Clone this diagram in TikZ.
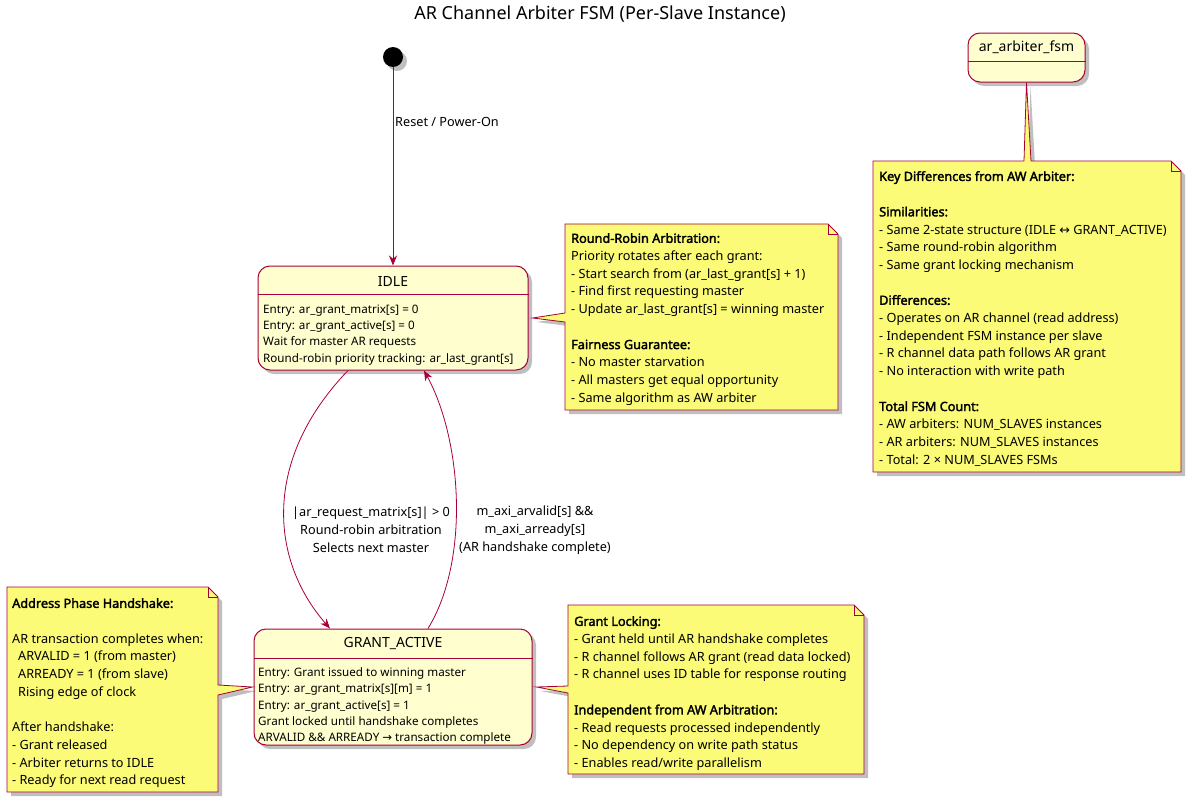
\documentclass[tikz,border=0pt]{standalone}
\usepackage{fontspec}
\setmainfont{Noto Sans}
\newfontfamily\boldnoto{Noto Sans}[FakeBold=2.2]
\newfontfamily\symfont{DejaVu Sans}
\newcommand{\hd}[1]{{\boldnoto #1}}
\usetikzlibrary{arrows.meta,shadows,calc}
\definecolor{stfill}{HTML}{FEFECE}
\definecolor{notefill}{HTML}{FBFB77}
\definecolor{bord}{HTML}{A80036}
\tikzset{
  shadowed/.style={drop shadow={shadow xshift=4pt,shadow yshift=-4pt,fill=black,opacity=0.25}},
  statebox/.style={draw=bord,fill=stfill,line width=1pt,rounded corners=12pt,inner sep=0pt,shadowed},
  sttitle/.style={font=\fontsize{14}{16}\selectfont,inner sep=0pt},
  stbody/.style={font=\fontsize{11.65}{16.3}\selectfont,align=left,anchor=north west,inner sep=0pt},
  notetext/.style={font=\fontsize{12.7}{17.7}\selectfont,align=left,anchor=north west,inner sep=0pt},
  noteshape/.style={draw=bord,fill=notefill,line width=0.8pt,line join=miter,shadowed},
  fold/.style={draw=bord,line width=0.8pt},
  sep/.style={draw=bord,line width=0.8pt},
  trans/.style={draw=bord,line width=0.8pt,-{Stealth[length=10pt,width=8pt]}},
  elabel/.style={font=\fontsize{12.7}{18}\selectfont,align=center,inner sep=0pt},
}
\begin{document}
\begin{tikzpicture}[x=1pt,y=-1pt]
\useasboundingbox (0,0) rectangle (1192,803);
\node[font=\fontsize{18}{20}\selectfont,inner sep=0pt] (title) at (600,14) {AR Channel Arbiter FSM (Per-Slave Instance)};

% states
\node[circle,fill=black,minimum size=20pt,inner sep=0pt,shadowed] (init) at (393,57) {};
\node[statebox,minimum width=270pt,minimum height=104pt] (idle) at (393,318) {};
\draw[sep] (idle.west |- 0,294) -- (idle.east |- 0,294);
\node[sttitle] (idleT) at (393,281) {IDLE};
\node[stbody] (idleB) at (263,304.5) {Entry: ar\_grant\_matrix[s] = 0\\
Entry: ar\_grant\_active[s] = 0\\
Wait for master AR requests\\
Round-robin priority tracking: ar\_last\_grant[s]};

\node[statebox,minimum width=278pt,minimum height=116pt] (grant) at (393,687) {};
\draw[sep] (grant.west |- 0,658) -- (grant.east |- 0,658);
\node[sttitle] (grantT) at (393,644) {GRANT\_ACTIVE};
\node[stbody] (grantB) at (258,667.5) {Entry: Grant issued to winning master\\
Entry: ar\_grant\_matrix[s][m] = 1\\
Entry: ar\_grant\_active[s] = 1\\
Grant locked until handshake completes\\
ARVALID \&\& ARREADY {\symfont →} transaction complete};

\node[statebox,minimum width=117pt,minimum height=49pt] (fsm) at (1026.5,57.5) {};
\draw[sep] (fsm.west |- 0,61.5) -- (fsm.east |- 0,61.5);
\node[sttitle] (fsmT) at (1026.5,47) {ar\_arbiter\_fsm};

% transitions
\draw[trans] (init) -- (idle);
\node[anchor=west,font=\fontsize{12.7}{14}\selectfont,inner sep=0pt] (rlabel) at (395,122) {Reset / Power-On};
\draw[trans] ($(idle.south)+(-45,0)$) .. controls (262,460) and (270,560) .. ($(grant.north)+(-63,0)$);
\draw[trans] ($(grant.north)+(35,0)$) .. controls (470,560) and (462,440) .. ($(idle.south)+(31,0)$);
\node[elabel] (l1) at (371,530) {|ar\_request\_matrix[s]| > 0\\Round-robin arbitration\\Selects next master};
\node[elabel] (l2) at (535,530) {m\_axi\_arvalid[s] \&\&\\m\_axi\_arready[s]\\(AR handshake complete)};

% note: round robin
\path[noteshape] (565,224) -- (828,224) -- (838,234) -- (838,410) -- (565,410) -- (565,322) -- ($(idle.east)+(4,0)$) -- (565,313) -- cycle;
\draw[fold] (828,224) -- (828,234) -- (838,234);
\node[notetext] (rrT) at (571,233) {\hd{Round-Robin Arbitration:}\\
Priority rotates after each grant:\\
- Start search from (ar\_last\_grant[s] + 1)\\
- Find first requesting master\\
- Update ar\_last\_grant[s] = winning master\\[17.7pt]
\hd{Fairness Guarantee:}\\
- No master starvation\\
- All masters get equal opportunity\\
- Same algorithm as AW arbiter};

% note: key differences
\path[noteshape] (873,161) -- (1024,161) -- (fsm.south) -- (1031,161) -- (1171,161) -- (1181,171) -- (1181,472) -- (873,472) -- cycle;
\draw[fold] (1171,161) -- (1171,171) -- (1181,171);
\node[notetext] (kdT) at (879,171) {\hd{Key Differences from AW Arbiter:}\\[17.7pt]
\hd{Similarities:}\\
- Same 2-state structure (IDLE {\symfont ↔} GRANT\_ACTIVE)\\
- Same round-robin algorithm\\
- Same grant locking mechanism\\[17.7pt]
\hd{Differences:}\\
- Operates on AR channel (read address)\\
- Independent FSM instance per slave\\
- R channel data path follows AR grant\\
- No interaction with write path\\[17.7pt]
\hd{Total FSM Count:}\\
- AW arbiters: NUM\_SLAVES instances\\
- AR arbiters: NUM\_SLAVES instances\\
- Total: 2 × NUM\_SLAVES FSMs};

% note: address phase
\path[noteshape] (7,587) -- (208,587) -- (218,597) -- (218,685) -- ($(grant.west)+(-1,0)$) -- (218,695) -- (218,792) -- (7,792) -- cycle;
\draw[fold] (208,587) -- (208,597) -- (218,597);
\node[notetext] (adT) at (12,598) {\hd{Address Phase Handshake:}\\[17.7pt]
AR transaction completes when:\\
\hspace*{6pt}ARVALID = 1 (from master)\\
\hspace*{6pt}ARREADY = 1 (from slave)\\
\hspace*{6pt}Rising edge of clock\\[17.7pt]
After handshake:\\
- Grant released\\
- Arbiter returns to IDLE\\
- Ready for next read request};

% note: grant locking
\path[noteshape] (568,605) -- (854,605) -- (864,615) -- (864,774) -- (568,774) -- (568,693) -- ($(grant.east)+(4,0)$) -- (568,686) -- cycle;
\draw[fold] (854,605) -- (854,615) -- (864,615);
\node[notetext] (glT) at (574,616) {\hd{Grant Locking:}\\
- Grant held until AR handshake completes\\
- R channel follows AR grant (read data locked)\\
- R channel uses ID table for response routing\\[17.7pt]
\hd{Independent from AW Arbitration:}\\
- Read requests processed independently\\
- No dependency on write path status\\
- Enables read/write parallelism};
\end{tikzpicture}
\end{document}
